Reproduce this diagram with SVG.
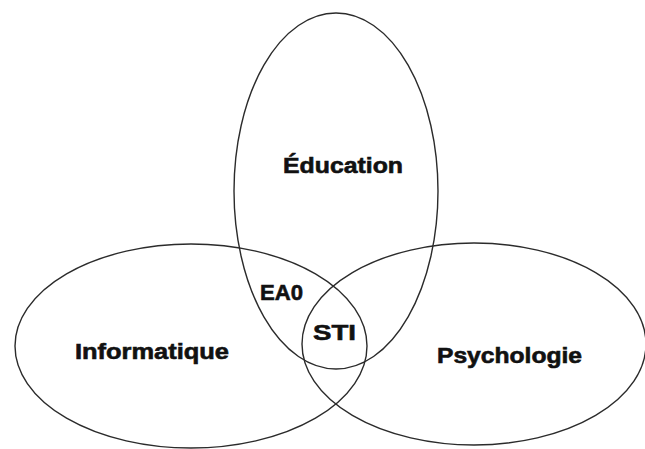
<svg xmlns="http://www.w3.org/2000/svg" width="645" height="449" viewBox="0 0 645 449">
  <style>
    .set { fill: none; stroke: #2b2b2b; stroke-width: 1.4; }
    .label { font-family: "Liberation Sans", Arial, sans-serif; font-weight: bold; font-size: 22px; fill: #111; stroke: #111; stroke-width: 0.6; }
  </style>
  <rect width="645" height="449" fill="#ffffff"/>
  <g id="sets">
    <g id="education">
      <ellipse class="set" cx="336" cy="191" rx="102" ry="178"/>
      <text class="label" x="283" y="173" textLength="120" lengthAdjust="spacingAndGlyphs">Éducation</text>
    </g>
    <g id="informatique">
      <ellipse class="set" cx="191" cy="346" rx="176" ry="102"/>
      <text class="label" x="75" y="359" textLength="154" lengthAdjust="spacingAndGlyphs">Informatique</text>
    </g>
    <g id="psychologie">
      <ellipse class="set" cx="474" cy="344" rx="172" ry="101"/>
      <text class="label" x="437" y="363" textLength="145" lengthAdjust="spacingAndGlyphs">Psychologie</text>
    </g>
  </g>
  <g id="intersections">
    <g id="ea0">
      <text class="label" x="260" y="300" textLength="43" lengthAdjust="spacingAndGlyphs">EA0</text>
    </g>
    <g id="sti">
      <text class="label" x="313" y="340" textLength="43" lengthAdjust="spacingAndGlyphs">STI</text>
    </g>
  </g>
</svg>
